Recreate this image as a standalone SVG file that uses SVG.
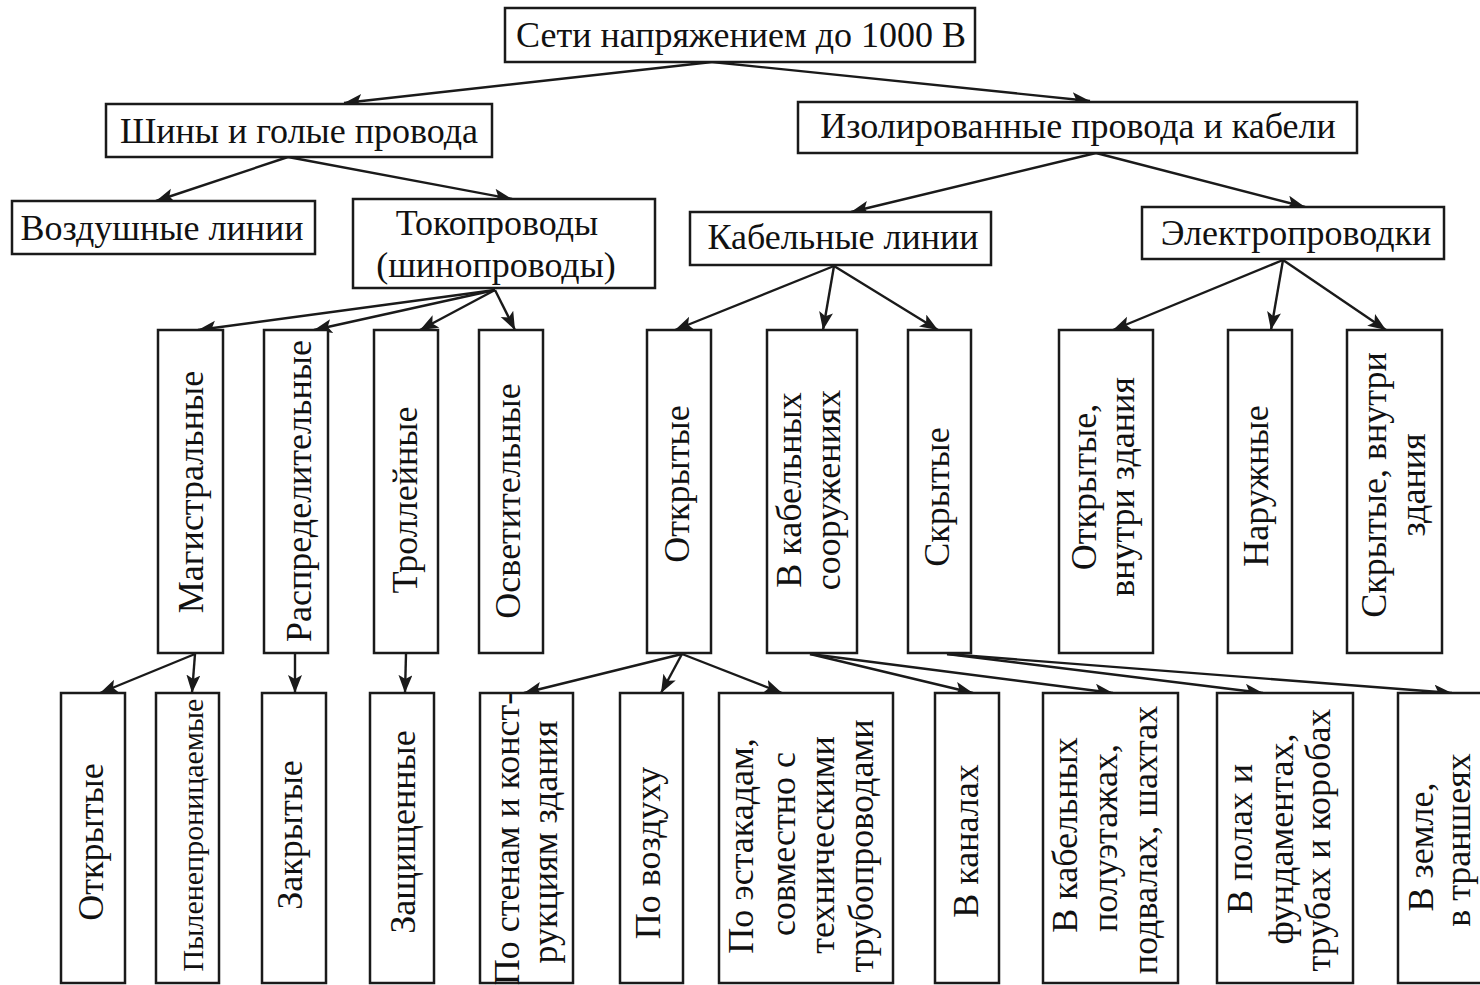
<svg xmlns="http://www.w3.org/2000/svg" width="1480" height="985" viewBox="0 0 1480 985">
<style>
.b{fill:#fff;stroke:#1a1a1a;stroke-width:2.5}
.t{font-family:"Liberation Serif","Times New Roman",serif;font-size:36px;fill:#111;text-anchor:middle}
.s{font-size:30px}
.c line{stroke:#1a1a1a;stroke-width:2.4;marker-end:url(#ah)}
</style>
<defs>
<marker id="ah" markerUnits="userSpaceOnUse" markerWidth="20" markerHeight="16" refX="18" refY="7" orient="auto">
<path d="M0,0 L18,7 L0,14 L4,7 Z" fill="#1a1a1a"/>
</marker>
</defs>
<rect width="1480" height="985" fill="#fff"/>
<g class="c" id="connectors">
<line x1="712" y1="62" x2="344" y2="103"/>
<line x1="712" y1="62" x2="1090" y2="101"/>
<line x1="288" y1="157" x2="156" y2="201"/>
<line x1="288" y1="157" x2="512" y2="199"/>
<line x1="1096" y1="153" x2="851" y2="212"/>
<line x1="1096" y1="153" x2="1305" y2="207"/>
<line x1="495" y1="290" x2="198" y2="330"/>
<line x1="495" y1="290" x2="314" y2="330"/>
<line x1="495" y1="290" x2="420" y2="330"/>
<line x1="495" y1="290" x2="515" y2="330"/>
<line x1="834" y1="266" x2="675" y2="330"/>
<line x1="834" y1="266" x2="823" y2="330"/>
<line x1="834" y1="266" x2="938" y2="330"/>
<line x1="1283" y1="260" x2="1113" y2="330"/>
<line x1="1283" y1="260" x2="1271" y2="330"/>
<line x1="1283" y1="260" x2="1386" y2="330"/>
<line x1="195" y1="654" x2="100" y2="693"/>
<line x1="195" y1="654" x2="192" y2="693"/>
<line x1="295" y1="654" x2="295" y2="693"/>
<line x1="406" y1="654" x2="405" y2="693"/>
<line x1="682" y1="654" x2="524" y2="693"/>
<line x1="682" y1="654" x2="661" y2="693"/>
<line x1="682" y1="654" x2="782" y2="693"/>
<line x1="810" y1="654" x2="973" y2="693"/>
<line x1="810" y1="654" x2="1113" y2="693"/>
<line x1="947" y1="654" x2="1263" y2="693"/>
<line x1="947" y1="654" x2="1452" y2="693"/>
</g>
<g id="root"><rect class="b" x="505" y="8" width="470" height="54"/><text class="t" x="741" y="47">Сети напряжением до 1000 В</text></g>
<g id="shiny"><rect class="b" x="106" y="104" width="386" height="53"/><text class="t" x="299" y="143">Шины и голые провода</text></g>
<g id="izol"><rect class="b" x="798" y="102" width="559" height="51"/><text class="t" x="1078" y="138">Изолированные провода и кабели</text></g>
<g id="vozd"><rect class="b" x="12" y="201" width="303" height="53"/><text class="t" x="162" y="240">Воздушные линии</text></g>
<g id="tokopr"><rect class="b" x="353" y="199" width="302" height="89"/><text class="t" x="497" y="235">Токопроводы</text><text class="t" x="496" y="277">(шинопроводы)</text></g>
<g id="kabl"><rect class="b" x="690" y="212" width="301" height="53"/><text class="t" x="843" y="249">Кабельные линии</text></g>
<g id="elpr"><rect class="b" x="1142" y="207" width="302" height="52"/><text class="t" x="1296" y="245">Электропроводки</text></g>

<g id="magistr"><rect class="b" x="158" y="330" width="65" height="323"/><text class="t" transform="translate(203,492) rotate(-90)">Магистральные</text></g>
<g id="raspr"><rect class="b" x="264" y="330" width="64" height="323"/><text class="t" transform="translate(311,491) rotate(-90)">Распределительные</text></g>
<g id="troll"><rect class="b" x="374" y="330" width="64" height="323"/><text class="t" transform="translate(417,500) rotate(-90)">Троллейные</text></g>
<g id="osvet"><rect class="b" x="479" y="330" width="64" height="323"/><text class="t" transform="translate(520,501) rotate(-90)">Осветительные</text></g>
<g id="kl-otkr"><rect class="b" x="647" y="330" width="64" height="323"/><text class="t" transform="translate(689,484) rotate(-90)">Открытые</text></g>
<g id="kl-soor"><rect class="b" x="767" y="330" width="90" height="323"/><text class="t" transform="translate(801,490) rotate(-90)">В кабельных</text><text class="t" transform="translate(840,490) rotate(-90)">сооружениях</text></g>
<g id="kl-skr"><rect class="b" x="908" y="330" width="63" height="323"/><text class="t" transform="translate(949,497) rotate(-90)">Скрытые</text></g>
<g id="ep-otkr"><rect class="b" x="1059" y="330" width="94" height="323"/><text class="t" transform="translate(1096,487) rotate(-90)">Открытые,</text><text class="t" transform="translate(1134,487) rotate(-90)">внутри здания</text></g>
<g id="ep-nar"><rect class="b" x="1228" y="330" width="64" height="323"/><text class="t" transform="translate(1268,486) rotate(-90)">Наружные</text></g>
<g id="ep-skr"><rect class="b" x="1347" y="330" width="95" height="323"/><text class="t" transform="translate(1386,485) rotate(-90)">Скрытые, внутри</text><text class="t" transform="translate(1425,485) rotate(-90)">здания</text></g>

<g id="b-otkr"><rect class="b" x="61" y="693" width="64" height="290"/><text class="t" transform="translate(103,842) rotate(-90)">Открытые</text></g>
<g id="b-pyl"><rect class="b" x="156" y="693" width="63" height="290"/><text class="t s" transform="translate(203,835) rotate(-90)">Пыленепроницаемые</text></g>
<g id="b-zakr"><rect class="b" x="262" y="693" width="64" height="290"/><text class="t" transform="translate(302,835) rotate(-90)">Закрытые</text></g>
<g id="b-zasch"><rect class="b" x="370" y="693" width="64" height="290"/><text class="t" transform="translate(415,832) rotate(-90)">Защищенные</text></g>
<g id="b-steny"><rect class="b" x="480" y="693" width="93" height="290"/><text class="t" transform="translate(519,839) rotate(-90)">По стенам и конст-</text><text class="t" transform="translate(557,842) rotate(-90)">рукциям здания</text></g>
<g id="b-vozd"><rect class="b" x="620" y="693" width="63" height="290"/><text class="t" transform="translate(660,853) rotate(-90)">По воздуху</text></g>
<g id="b-estak"><rect class="b" x="719" y="693" width="174" height="290"/><text class="t" transform="translate(753,846) rotate(-90)">По эстакадам,</text><text class="t" transform="translate(795,844) rotate(-90)">совместно с</text><text class="t" transform="translate(834,845) rotate(-90)">техническими</text><text class="t" transform="translate(873,846) rotate(-90)">трубопроводами</text></g>
<g id="b-kanal"><rect class="b" x="935" y="693" width="64" height="290"/><text class="t" transform="translate(978,841) rotate(-90)">В каналах</text></g>
<g id="b-polu"><rect class="b" x="1043" y="693" width="135" height="290"/><text class="t" transform="translate(1077,835) rotate(-90)">В кабельных</text><text class="t" transform="translate(1117,838) rotate(-90)">полуэтажах,</text><text class="t" transform="translate(1157,840) rotate(-90)">подвалах, шахтах</text></g>
<g id="b-poly"><rect class="b" x="1217" y="693" width="136" height="290"/><text class="t" transform="translate(1252,839) rotate(-90)">В полах и</text><text class="t" transform="translate(1293,839) rotate(-90)">фундаментах,</text><text class="t" transform="translate(1330,840) rotate(-90)">трубах и коробах</text></g>
<g id="b-zem"><rect class="b" x="1398" y="693" width="100" height="290"/><text class="t" transform="translate(1433,847) rotate(-90)">В земле,</text><text class="t" transform="translate(1470,840) rotate(-90)">в траншеях</text></g>
</svg>
